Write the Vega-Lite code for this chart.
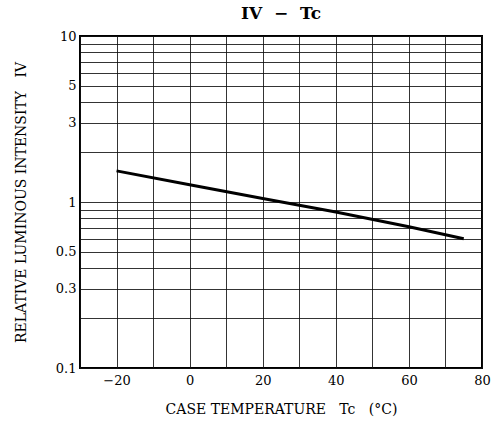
{
  "$schema": "https://vega.github.io/schema/vega-lite/v6.json",
  "autosize": "none",
  "padding": {"left": 80, "top": 36, "right": 10, "bottom": 59},
  "width": 402,
  "height": 332,
  "title": {"text": "IV\u00a0\u00a0−\u00a0\u00a0Tc", "font": "DejaVu Serif", "fontSize": 17, "fontWeight": "bold", "color": "#000", "offset": 7, "anchor": "middle"},
  "config": {
    "view": {"stroke": "#000", "strokeWidth": 2},
    "axis": {"labelFont": "DejaVu Serif", "titleFont": "DejaVu Serif", "labelColor": "#000", "titleColor": "#000", "labelFontSize": 13, "titleFontSize": 14, "titleFontWeight": "normal", "ticks": false, "domain": false, "gridColor": "#111", "gridOpacity": 0.85, "gridWidth": 1}
  },
  "data": {"values": [
    {"t": -20, "iv": 1.54},
    {"t": 0, "iv": 1.27},
    {"t": 20, "iv": 1.05},
    {"t": 40, "iv": 0.87},
    {"t": 60, "iv": 0.71},
    {"t": 75, "iv": 0.6}
  ]},
  "mark": {"type": "line", "color": "#000", "strokeWidth": 3},
  "encoding": {
    "x": {"field": "t", "type": "quantitative", "scale": {"domain": [-30, 80], "nice": false, "zero": false},
      "axis": {"values": [-30, -20, -10, 0, 10, 20, 30, 40, 50, 60, 70, 80], "labelExpr": "datum.value % 20 === 0 ? replace(datum.label, '-', '−\u00a0') : ''", "labelPadding": 6, "title": "CASE TEMPERATURE\u00a0\u00a0\u00a0Tc\u00a0\u00a0\u00a0(°C)", "titlePadding": 15, "labelFlush": false}},
    "y": {"field": "iv", "type": "quantitative", "scale": {"type": "log", "domain": [0.1, 10], "nice": false},
      "axis": {"values": [0.1, 0.2, 0.3, 0.4, 0.5, 0.6, 0.7, 0.8, 0.9, 1, 2, 3, 4, 5, 6, 7, 8, 9, 10], "format": "~g", "labelExpr": "indexof([0.1, 0.3, 0.5, 1, 3, 5, 10], datum.value) >= 0 ? datum.label : ''", "labelPadding": 4, "title": "RELATIVE LUMINOUS INTENSITY\u00a0\u00a0\u00a0IV", "titlePadding": 27, "labelFlush": false}}
  }
}
